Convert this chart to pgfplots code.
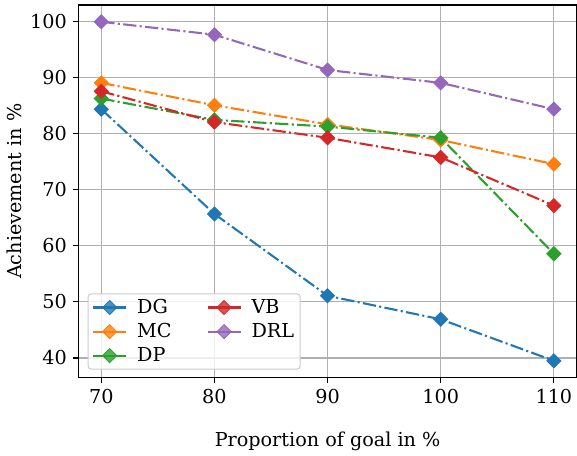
\documentclass[border=0pt]{standalone}
\usepackage{fontspec}
\setmainfont{DejaVu Serif}
\usepackage{pgfplots}
\pgfplotsset{compat=1.18}
\usetikzlibrary{calc}
\definecolor{cDG}{HTML}{1F77B4}
\definecolor{cMC}{HTML}{FF7F0E}
\definecolor{cDP}{HTML}{2CA02C}
\definecolor{cVB}{HTML}{D62728}
\definecolor{cDRL}{HTML}{9467BD}
\newcommand{\fs}{\fontsize{19.2}{23}\selectfont}
\begin{document}
\fs
\begin{tikzpicture}
\begin{axis}[
  name=ax,
  scale only axis, width=498pt, height=372.7pt,
  xmin=68, xmax=112, ymin=36.5, ymax=103,
  xtick={70,80,90,100,110}, ytick={40,50,60,70,80,90,100},
  xtick pos=left, ytick pos=left,
  tick align=outside, major tick length=5.3pt,
  tick style={black, line width=1.1pt},
  axis line style={black, line width=1.1pt},
  grid=major, major grid style={color=black!31, line width=1.1pt},
  /pgf/number format/assume math mode=true,
  xticklabel style={font=\fs},
  yticklabel style={font=\fs},
  xlabel={Proportion of goal in \%},
  ylabel={Achievement in \%},
  xlabel style={font=\fs, at={(axis description cs:0.5,-0.170)}, anchor=center},
  ylabel style={font=\fs, at={(axis description cs:-0.129,0.5)}, anchor=center},
  every axis plot/.append style={line width=2.08pt, dash pattern=on 13.3pt off 3.3pt on 2.1pt off 3.3pt},
  mark size=5pt,
  legend columns=2,
  legend cell align=left,
  legend style={at={(0.018,0.0215)}, anchor=south west, draw=black!20, line width=1pt, rounded corners=3pt, fill=white, fill opacity=0.8, text opacity=1, font=\fs, inner xsep=4pt, inner ysep=3pt, row sep=3pt, /tikz/every odd column/.append style={column sep=8pt}, /tikz/every even column/.append style={column sep=33pt}},
  legend image code/.code={\draw[#1, solid, line width=2.08pt] (0pt,0pt) -- (33pt,0pt); \draw[#1, solid] plot coordinates {(16.5pt,0pt)};},
]
\addplot[color=cDG, mark=square*, mark options={solid, rotate=45, line width=0.8pt, fill=cDG, draw=cDG}, forget plot] coordinates {(70,84.4) (80,65.7) (90,51.1) (100,46.9) (110,39.5)};
\addplot[color=cMC, mark=square*, mark options={solid, rotate=45, line width=0.8pt, fill=cMC, draw=cMC}, forget plot] coordinates {(70,89.1) (80,85.1) (90,81.7) (100,78.9) (110,74.6)};
\addplot[color=cDP, mark=square*, mark options={solid, rotate=45, line width=0.8pt, fill=cDP, draw=cDP}, forget plot] coordinates {(70,86.3) (80,82.5) (90,81.3) (100,79.3) (110,58.6)};
\addplot[color=cVB, mark=square*, mark options={solid, rotate=45, line width=0.8pt, fill=cVB, draw=cVB}, forget plot] coordinates {(70,87.6) (80,82.1) (90,79.3) (100,75.8) (110,67.2)};
\addplot[color=cDRL, mark=square*, mark options={solid, rotate=45, line width=0.8pt, fill=cDRL, draw=cDRL}, forget plot] coordinates {(70,100.0) (80,97.7) (90,91.4) (100,89.1) (110,84.4)};
\addlegendimage{color=cDG, mark=square*, mark options={solid, rotate=45, line width=0.8pt, fill=cDG, draw=cDG}}
\addlegendentry{DG}
\addlegendimage{color=cVB, mark=square*, mark options={solid, rotate=45, line width=0.8pt, fill=cVB, draw=cVB}}
\addlegendentry{VB}
\addlegendimage{color=cMC, mark=square*, mark options={solid, rotate=45, line width=0.8pt, fill=cMC, draw=cMC}}
\addlegendentry{MC}
\addlegendimage{color=cDRL, mark=square*, mark options={solid, rotate=45, line width=0.8pt, fill=cDRL, draw=cDRL}}
\addlegendentry{DRL}
\addlegendimage{color=cDP, mark=square*, mark options={solid, rotate=45, line width=0.8pt, fill=cDP, draw=cDP}}
\addlegendentry{DP}
\end{axis}
\pgfresetboundingbox
\path[use as bounding box] ($(ax.south west)+(-78.7pt,-78.3pt)$) rectangle ($(ax.north east)+(0.5pt,5pt)$);
\end{tikzpicture}
\end{document}
